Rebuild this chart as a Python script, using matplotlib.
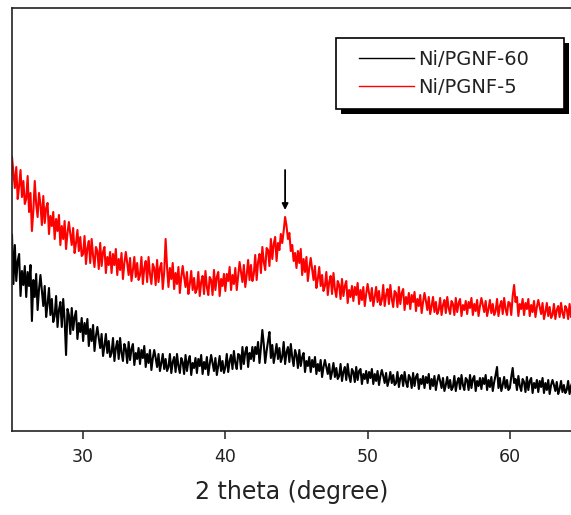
import numpy as np
import matplotlib
matplotlib.use("Agg")
import matplotlib.pyplot as plt
from matplotlib.patches import Rectangle
from matplotlib.lines import Line2D
from matplotlib.legend_handler import HandlerLine2D

# XRD intensities (arbitrary units), one value every 0.1 degree from 25.0
# Ni/PGNF-5 (red)
ni_pgnf_5 = [
    274, 258, 243, 264, 232, 245, 261, 234, 250, 227,
    232, 255, 219, 238, 200, 220, 250, 227, 214, 238,
    227, 206, 235, 208, 223, 228, 197, 215, 205, 219,
    192, 212, 200, 216, 186, 205, 192, 210, 182, 198,
    209, 197, 186, 203, 178, 188, 201, 180, 194, 175,
    177, 195, 167, 183, 190, 168, 192, 175, 164, 184,
    180, 162, 188, 165, 179, 184, 158, 174, 166, 179,
    158, 177, 166, 182, 156, 172, 161, 178, 152, 168,
    179, 168, 156, 173, 150, 161, 174, 154, 168, 151,
    156, 174, 147, 163, 170, 149, 174, 157, 147, 167,
    163, 146, 171, 149, 163, 168, 142, 159, 192, 164,
    144, 163, 152, 168, 142, 158, 147, 164, 138, 154,
    165, 154, 144, 159, 137, 147, 160, 141, 153, 138,
    142, 159, 135, 149, 155, 137, 160, 144, 136, 154,
    151, 136, 161, 141, 154, 159, 135, 152, 145, 157,
    140, 157, 150, 164, 141, 156, 147, 163, 141, 155,
    169, 159, 149, 166, 144, 156, 171, 151, 166, 150,
    157, 176, 151, 169, 177, 158, 184, 169, 161, 183,
    181, 165, 192, 172, 187, 194, 170, 188, 181, 197,
    188, 200, 214, 205, 192, 198, 180, 186, 170, 178,
    163, 180, 168, 182, 156, 172, 159, 174, 150, 163,
    173, 162, 151, 165, 143, 152, 164, 145, 156, 140,
    145, 159, 136, 149, 155, 137, 158, 142, 134, 150,
    146, 132, 152, 135, 145, 150, 128, 141, 134, 145,
    130, 144, 136, 148, 127, 141, 131, 144, 125, 137,
    147, 138, 130, 143, 125, 134, 144, 129, 140, 126,
    131, 146, 125, 136, 142, 127, 146, 132, 124, 140,
    138, 124, 144, 127, 138, 142, 121, 134, 127, 138,
    122, 136, 129, 139, 120, 132, 125, 136, 118, 129,
    138, 130, 121, 134, 117, 125, 134, 119, 129, 117,
    121, 133, 116, 126, 131, 118, 134, 123, 117, 130,
    127, 116, 133, 119, 128, 132, 115, 126, 121, 130,
    117, 129, 123, 133, 116, 127, 120, 131, 115, 125,
    133, 126, 119, 130, 115, 122, 131, 118, 127, 116,
    120, 132, 115, 125, 130, 117, 133, 122, 116, 129,
    128, 116, 135, 146, 129, 134, 115, 127, 122, 132,
    116, 128, 122, 132, 115, 126, 119, 130, 114, 124,
    131, 124, 117, 128, 112, 119, 128, 115, 124, 113,
    116, 127, 112, 121, 125, 114, 128, 118, 113, 125,
    122, 112, 127, 114, 123,
]

# Ni/PGNF-60 (black)
ni_pgnf_60 = [
    196, 147, 186, 150, 170, 177, 135, 160, 146, 165,
    134, 159, 145, 166, 110, 151, 134, 157, 121, 142,
    156, 140, 125, 145, 114, 127, 143, 116, 132, 109,
    115, 135, 104, 121, 129, 104, 132, 111, 76, 122,
    116, 97, 123, 101, 114, 120, 92, 108, 99, 113,
    90, 108, 97, 112, 85, 102, 90, 106, 80, 95,
    104, 93, 83, 97, 75, 85, 97, 78, 90, 74,
    78, 93, 70, 83, 90, 72, 93, 78, 70, 87,
    82, 68, 89, 71, 82, 87, 66, 78, 72, 83,
    67, 81, 73, 85, 64, 77, 68, 81, 61, 73,
    81, 73, 64, 77, 60, 68, 77, 62, 72, 60,
    64, 77, 58, 69, 74, 59, 77, 65, 58, 73,
    69, 57, 76, 60, 70, 75, 56, 68, 63, 73,
    58, 72, 65, 76, 57, 69, 62, 74, 56, 67,
    76, 68, 60, 73, 56, 65, 75, 60, 70, 58,
    64, 77, 59, 70, 76, 62, 80, 68, 62, 77,
    76, 62, 84, 67, 79, 84, 64, 78, 72, 84,
    70, 84, 77, 89, 68, 83, 101, 87, 68, 80,
    90, 99, 73, 86, 68, 77, 87, 72, 83, 69,
    74, 89, 67, 79, 84, 69, 87, 74, 65, 81,
    76, 63, 81, 65, 74, 78, 59, 70, 65, 74,
    59, 71, 64, 74, 57, 67, 60, 71, 54, 64,
    71, 64, 57, 67, 52, 59, 68, 54, 63, 52,
    55, 67, 50, 59, 64, 51, 67, 55, 49, 62,
    59, 49, 64, 51, 60, 62, 47, 57, 52, 60,
    48, 59, 53, 62, 47, 57, 50, 60, 46, 55,
    61, 55, 48, 58, 45, 51, 59, 48, 56, 46,
    48, 59, 44, 53, 56, 45, 59, 49, 44, 56,
    53, 43, 58, 45, 54, 57, 42, 52, 47, 55,
    43, 54, 48, 57, 42, 52, 45, 55, 41, 50,
    56, 50, 43, 53, 40, 46, 54, 43, 51, 41,
    44, 55, 40, 49, 53, 42, 56, 46, 41, 53,
    51, 41, 56, 43, 52, 55, 40, 50, 45, 53,
    42, 53, 47, 56, 41, 51, 44, 54, 40, 49,
    56, 64, 43, 53, 40, 46, 54, 43, 51, 41,
    43, 54, 63, 48, 52, 41, 55, 45, 40, 52,
    49, 39, 54, 41, 50, 53, 38, 48, 43, 51,
    39, 50, 44, 53, 38, 48, 41, 51, 37, 46,
    51, 46, 40, 49, 37, 42, 50, 39, 46, 38,
    41, 50, 37, 45, 49,
]

theta_5 = np.round(25.0 + 0.1 * np.arange(len(ni_pgnf_5)), 1)
theta_60 = np.round(25.0 + 0.1 * np.arange(len(ni_pgnf_60)), 1)

x_ticks = [30, 40, 50, 60]
peak_pos = 44.2        # Ni (111) reflection marked by the arrow
arrow_top, arrow_tip = 261, 221

plt.rcParams['font.family'] = ['DejaVu Sans']

fig = plt.figure(figsize=(5.71, 5.15), dpi=100)
ax = fig.add_axes([12 / 571, 1 - 431 / 515, 1 - 12 / 571, 423 / 515])

ax.plot(theta_60, ni_pgnf_60, color='black', lw=1.5, label='Ni/PGNF-60')
ax.plot(theta_5, ni_pgnf_5, color='red', lw=1.5, label='Ni/PGNF-5')

ax.annotate('', xy=(peak_pos, arrow_tip), xytext=(peak_pos, arrow_top),
            arrowprops=dict(arrowstyle='-|>', color='black', lw=1.3,
                            mutation_scale=9, shrinkA=0, shrinkB=0))

ax.set_xlim(25, 64.3)
ax.set_ylim(0, 423)
ax.set_xticks(x_ticks)
ax.set_yticks([])
ax.tick_params(axis='x', direction='out', length=6, width=1.1,
               labelsize=12.5, colors='#222222', pad=6)
ax.spines['right'].set_visible(False)
for s in ['left', 'top', 'bottom']:
    ax.spines[s].set_linewidth(1.2)
    ax.spines[s].set_color('#222222')
ax.set_xlabel('2 theta (degree)', fontsize=17, color='#222222', labelpad=10)

leg = ax.legend(loc='upper left',
                bbox_to_anchor=(336 / 571, 1 - 108 / 515, 228 / 571, 70 / 515),
                bbox_transform=fig.transFigure, mode='expand', borderaxespad=0,
                fancybox=False, framealpha=1, edgecolor='black',
                fontsize=14, handlelength=3.4, handletextpad=0.2,
                labelspacing=0.45, borderpad=0.62,
                handler_map={Line2D: HandlerLine2D(xpad=0.55)})
leg.get_frame().set_linewidth(1.2)
leg.set_zorder(5)
for t in leg.get_texts():
    t.set_color('#222222')
for h in leg.get_lines():
    h.set_linewidth(1.0)

# solid drop shadow behind the legend box
fig.canvas.draw()
bb = leg.get_window_extent()
shadow = Rectangle((bb.x0 + 5, bb.y0 - 5), bb.width, bb.height,
                   transform=None, facecolor='black', edgecolor='none', zorder=4)
shadow.set_clip_on(False)
ax.add_artist(shadow)

fig.savefig('out.png', dpi=100)
